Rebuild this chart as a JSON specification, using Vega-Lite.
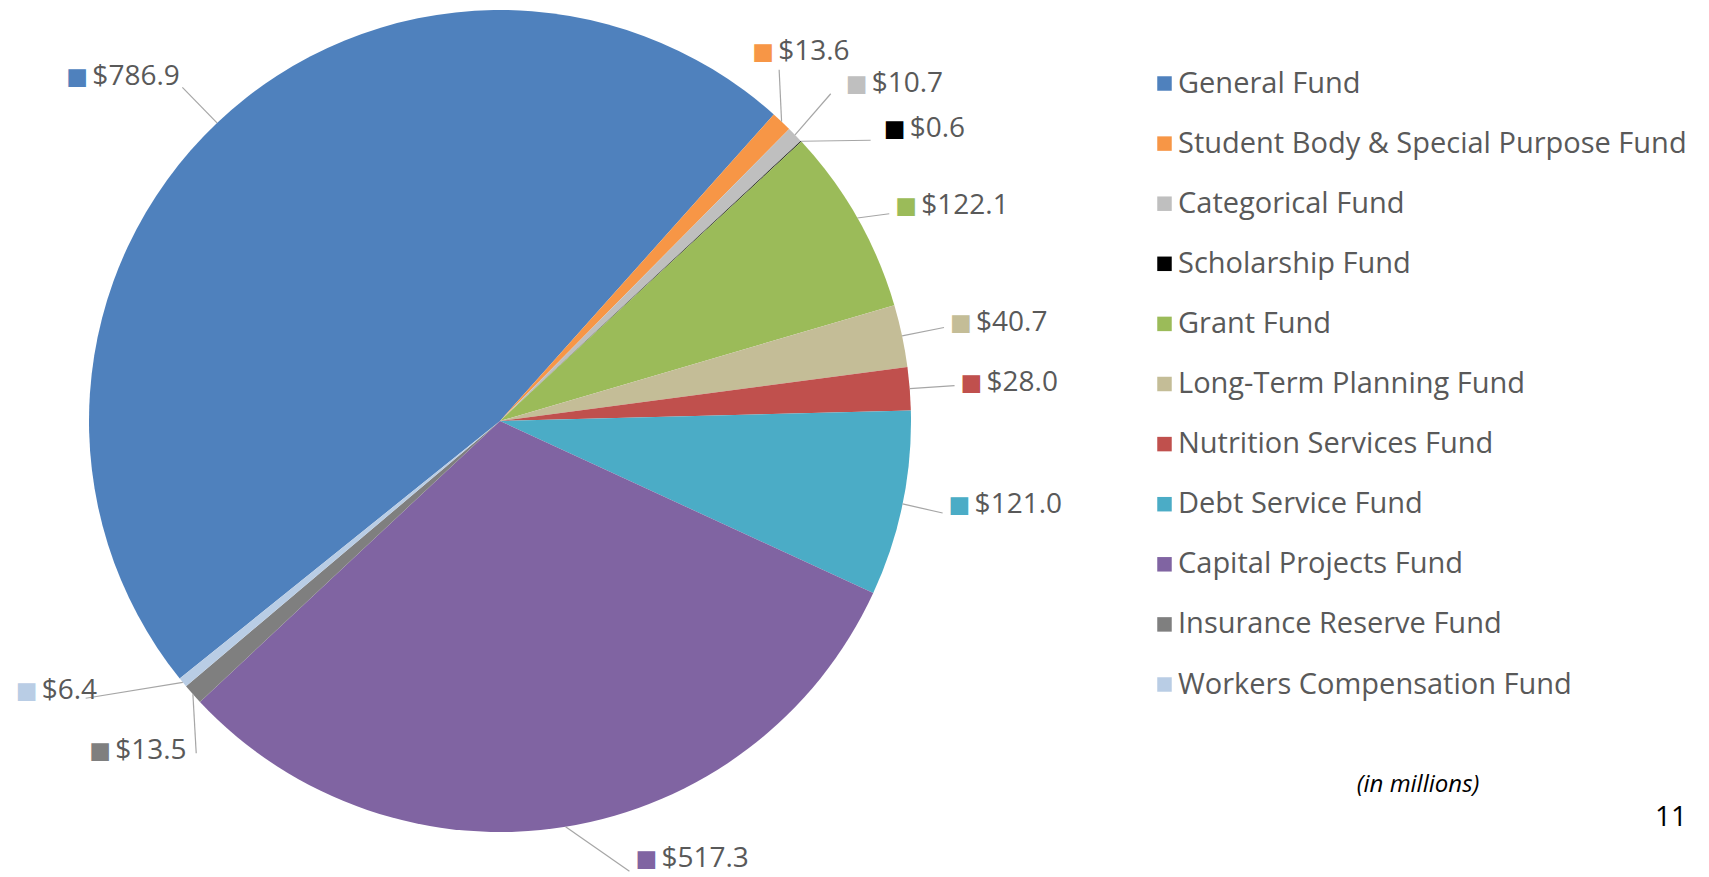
{
  "$schema": "https://vega.github.io/schema/vega-lite/v6.json",
  "width": 990,
  "height": 832,
  "padding": 5,
  "background": "white",
  "config": {"view": {"stroke": null}},
  "title": {"text": "11", "orient": "bottom", "anchor": "end", "frame": "bounds", "offset": -69, "fontSize": 28, "fontWeight": "normal", "color": "#000000", "font": "Open Sans"},
  "data": {
    "values": [
      {"i": 1, "fund": "General Fund", "value": 786.9},
      {"i": 2, "fund": "Student Body & Special Purpose Fund", "value": 13.6},
      {"i": 3, "fund": "Categorical Fund", "value": 10.7},
      {"i": 4, "fund": "Scholarship Fund", "value": 0.6},
      {"i": 5, "fund": "Grant Fund", "value": 122.1},
      {"i": 6, "fund": "Long-Term Planning Fund", "value": 40.7},
      {"i": 7, "fund": "Nutrition Services Fund", "value": 28.0},
      {"i": 8, "fund": "Debt Service Fund", "value": 121.0},
      {"i": 9, "fund": "Capital Projects Fund", "value": 517.3},
      {"i": 10, "fund": "Insurance Reserve Fund", "value": 13.5},
      {"i": 11, "fund": "Workers Compensation Fund", "value": 6.4}
    ]
  },
  "layer": [
    {
      "mark": {"type": "arc", "outerRadius": 411},
      "encoding": {
        "theta": {"field": "value", "type": "quantitative", "stack": true, "scale": {"range": [4.0352, 10.3184]}},
        "order": {"field": "i", "type": "quantitative", "sort": "ascending"},
        "color": {
          "field": "fund",
          "type": "nominal",
          "scale": {
            "domain": ["General Fund", "Student Body & Special Purpose Fund", "Categorical Fund", "Scholarship Fund", "Grant Fund", "Long-Term Planning Fund", "Nutrition Services Fund", "Debt Service Fund", "Capital Projects Fund", "Insurance Reserve Fund", "Workers Compensation Fund"],
            "range": ["#4F81BD", "#F79646", "#BFBFBF", "#000000", "#9BBB59", "#C4BD97", "#C0504D", "#4BACC6", "#8064A2", "#7F7F7F", "#B9CDE5"]
          },
          "legend": {
            "orient": "none",
            "legendX": 1145,
            "legendY": 64,
            "title": "(in millions)",
            "titleOrient": "bottom",
            "titleAnchor": "middle",
            "titlePadding": 73,
            "titleFontStyle": "italic",
            "titleFontWeight": "normal",
            "titleFontSize": 24,
            "titleColor": "#000000",
            "titleFont": "Open Sans",
            "labelFont": "Open Sans",
            "labelFontSize": 29,
            "labelColor": "#595959",
            "labelOffset": -1,
            "labelLimit": 800,
            "symbolType": "square",
            "symbolSize": 210,
            "symbolStrokeWidth": 0,
            "symbolOpacity": 1,
            "rowPadding": 30.1,
            "padding": 0
          }
        }
      }
    },
    {
      "transform": [
        {"window": [{"op": "sum", "field": "value", "as": "cum"}], "sort": [{"field": "i", "order": "ascending"}], "frame": [null, 0]},
        {"joinaggregate": [{"op": "sum", "field": "value", "as": "total"}]},
        {"calculate": "4.0352 + 2 * PI * (datum.cum - datum.value / 2) / datum.total", "as": "a"},
        {"calculate": "[547, 441, 483, 480, 450, 461, 462, 456, 454, 527, 546][datum.i - 1]", "as": "lr"},
        {"calculate": "495 + 411 * sin(datum.a)", "as": "x1"},
        {"calculate": "416 - 411 * cos(datum.a)", "as": "y1"},
        {"calculate": "495 + datum.lr * sin(datum.a) + [-57, -50, -1, 32, 4, -1, 0, 2, 63, -17, -63][datum.i - 1] + [116, 27, -15, -13, -6, -6, -6, -6, -6, 107, 70][datum.i - 1]", "as": "x2"},
        {"calculate": "416 - datum.lr * cos(datum.a) + [53, -48, -1, 35, 7, -3, -2, -8, -10, -20, -77][datum.i - 1] + [10, 18, 10, 11, 8, 5, 3, 8, 12, 2, 7][datum.i - 1]", "as": "y2"}
      ],
      "mark": {"type": "rule", "color": "#A6A6A6", "strokeWidth": 1.2},
      "encoding": {
        "x": {"field": "x1", "type": "quantitative", "scale": null},
        "y": {"field": "y1", "type": "quantitative", "scale": null},
        "x2": {"field": "x2"},
        "y2": {"field": "y2"}
      }
    },
    {
      "mark": {
        "type": "text",
        "font": "DejaVu Sans",
        "fontSize": 23,
        "align": "left",
        "baseline": "middle",
        "radius": {"expr": "[547, 441, 483, 480, 450, 461, 462, 456, 454, 527, 546][datum.i - 1]"},
        "dx": {"expr": "[-57, -50, -1, 32, 4, -1, 0, 2, 63, -17, -63][datum.i - 1]"},
        "dy": {"expr": "[53, -48, -1, 35, 7, -3, -2, -8, -10, -20, -77][datum.i - 1]"}
      },
      "encoding": {
        "theta": {"field": "value", "type": "quantitative", "stack": true},
        "order": {"field": "i", "type": "quantitative", "sort": "ascending"},
        "color": {"field": "fund", "type": "nominal", "legend": null},
        "text": {"value": "■"}
      }
    },
    {
      "mark": {
        "type": "text",
        "font": "Open Sans",
        "fontSize": 28,
        "color": "#595959",
        "align": "left",
        "baseline": "middle",
        "radius": {"expr": "[547, 441, 483, 480, 450, 461, 462, 456, 454, 527, 546][datum.i - 1]"},
        "dx": {"expr": "26 + [-57, -50, -1, 32, 4, -1, 0, 2, 63, -17, -63][datum.i - 1]"},
        "dy": {"expr": "[53, -48, -1, 35, 7, -3, -2, -8, -10, -20, -77][datum.i - 1]"}
      },
      "encoding": {
        "theta": {"field": "value", "type": "quantitative", "stack": true},
        "order": {"field": "i", "type": "quantitative", "sort": "ascending"},
        "text": {"field": "value", "type": "quantitative", "format": "$.1f"}
      }
    }
  ]
}
